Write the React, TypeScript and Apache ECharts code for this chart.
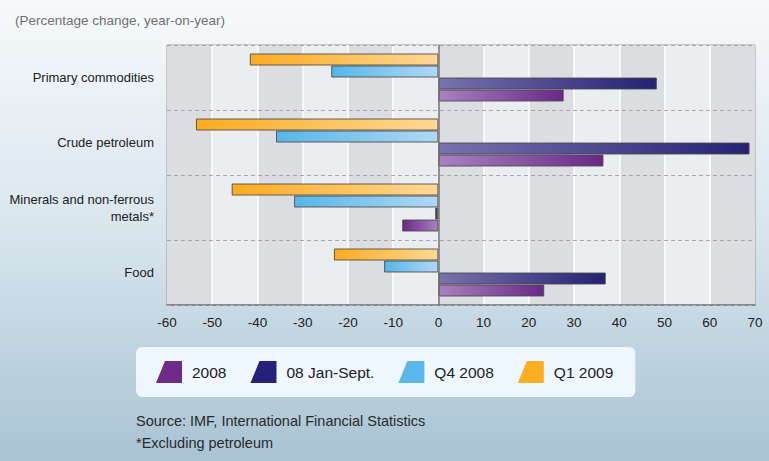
import React, { useEffect, useRef } from "react";
import * as echarts from "echarts";

const FONT = "'Liberation Sans', Arial, sans-serif";

const categories = [
  "Primary commodities",
  "Crude petroleum",
  "Minerals and non-ferrous\nmetals*",
  "Food",
];
const xTicksMin = -60;
const xTicksMax = 70;
const xTickStep = 10;

// series values (percentage change, year-on-year)
const values2008 = [27.7, 36.5, -8.0, 23.4];
const valuesJanSept = [48.3, 68.8, -0.7, 37.0];
const valuesQ42008 = [-23.7, -35.9, -31.9, -12.0];
const valuesQ12009 = [-41.7, -53.6, -45.7, -23.1];

const seriesNames = ["Q1 2009", "Q4 2008", "08 Jan-Sept.", "2008"];
const legendOrder = ["2008", "08 Jan-Sept.", "Q4 2008", "Q1 2009"];

const palette: Record<string, { solid: string; dark: string; light: string }> = {
  "2008": { solid: "#6f2b8c", dark: "#6a2888", light: "#a882c0" },
  "08 Jan-Sept.": { solid: "#24217a", dark: "#252274", light: "#7872ad" },
  "Q4 2008": { solid: "#5cb8ea", dark: "#56b6e8", light: "#b0d8f4" },
  "Q1 2009": { solid: "#fdae22", dark: "#fcab1e", light: "#ffd895" },
};

function gradItem(v: number, name: string) {
  const c = palette[name];
  const stops =
    v >= 0
      ? [
          { offset: 0, color: c.light },
          { offset: 1, color: c.dark },
        ]
      : [
          { offset: 0, color: c.dark },
          { offset: 1, color: c.light },
        ];
  return {
    value: v,
    itemStyle: {
      color: { type: "linear", x: 0, y: 0, x2: 1, y2: 0, colorStops: stops },
    },
  };
}

export default function App() {
  const ref = useRef<HTMLDivElement>(null);
  useEffect(() => {
    if (!ref.current) return;
    const chart = echarts.init(ref.current, undefined, { renderer: "svg" });
    const dataByName: Record<string, number[]> = {
      "Q1 2009": valuesQ12009,
      "Q4 2008": valuesQ42008,
      "08 Jan-Sept.": valuesJanSept,
      "2008": values2008,
    };
    const series: any[] = seriesNames.map((name, i) => ({
      name,
      type: "bar",
      barWidth: 12,
      barGap: "0%",
      itemStyle: {
        color: palette[name].solid,
        borderColor: "rgba(70,70,70,0.85)",
        borderWidth: 1,
      },
      data: dataByName[name].map((v) => gradItem(v, name)),
      ...(i === seriesNames.length - 1
        ? {
            markLine: {
              silent: true,
              symbol: "none",
              label: { show: false },
              lineStyle: { color: "#6e6e6e", type: "solid", width: 1.5 },
              data: [{ xAxis: 0 }],
            },
          }
        : {}),
    }));

    chart.setOption({
      animation: false,
      backgroundColor: {
        type: "linear",
        x: 0,
        y: 0,
        x2: 0,
        y2: 1,
        colorStops: [
          { offset: 0, color: "#f6f9fb" },
          { offset: 0.5, color: "#d9e5ed" },
          { offset: 1, color: "#a8c3d4" },
        ],
      },
      textStyle: { fontFamily: FONT },
      title: {
        text: "(Percentage change, year-on-year)",
        left: 10,
        top: 8,
        textStyle: { fontFamily: FONT, fontSize: 13.5, fontWeight: "normal", color: "#707070" },
      },
      grid: {
        left: 167,
        right: 14,
        top: 45,
        bottom: 156,
        show: true,
        borderColor: "#9a9a9a",
        borderWidth: 1,
        backgroundColor: "transparent",
      },
      legend: {
        data: legendOrder,
        left: 136,
        top: 347,
        orient: "horizontal",
        itemWidth: 26,
        itemHeight: 22,
        itemGap: 24,
        padding: [14, 22, 14, 20],
        backgroundColor: "#eef7fd",
        borderRadius: 6,
        icon: "path://M9,0 L26,0 L26,22 L0,22 Z",
        itemStyle: { borderWidth: 0 },
        textStyle: { fontFamily: FONT, fontSize: 15.5, color: "#222", padding: [0, 0, 0, 5] },
      },
      xAxis: {
        type: "value",
        z: 0,
        min: xTicksMin,
        max: xTicksMax,
        interval: xTickStep,
        axisLine: { show: true, lineStyle: { color: "#6e6e6e", width: 1.5 } },
        axisTick: { show: false },
        axisLabel: { fontFamily: FONT, fontSize: 13.5, color: "#222", margin: 10 },
        splitLine: {
          show: true,
          showMinLine: false,
          showMaxLine: false,
          lineStyle: { color: "#f8f8f8", width: 2 },
        },
        splitArea: { show: true, areaStyle: { color: ["#dcdde0", "#ecedef"] } },
      },
      yAxis: {
        type: "category",
        z: 1,
        inverse: true,
        data: categories,
        axisLine: { show: false, onZero: false },
        axisTick: { show: false },
        axisLabel: {
          fontFamily: FONT,
          fontSize: 13,
          color: "#222",
          margin: 13,
          lineHeight: 17,
          align: "right",
        },
        splitLine: { show: true, lineStyle: { color: "#a8a8a8", type: [4, 3], width: 1 } },
      },
      graphic: [
        {
          type: "text",
          left: 136,
          top: 413,
          style: {
            text: "Source: IMF, International Financial Statistics",
            fontFamily: FONT,
            fontSize: 14.5,
            fill: "#2a2a2a",
          },
        },
        {
          type: "text",
          left: 136,
          top: 435,
          style: {
            text: "*Excluding petroleum",
            fontFamily: FONT,
            fontSize: 14.5,
            fill: "#2a2a2a",
          },
        },
      ],
      series,
    });
    return () => chart.dispose();
  }, []);
  return (
    <div
      ref={ref}
      style={{ position: "absolute", left: 0, top: 0, width: 769, height: 461 }}
    />
  );
}
